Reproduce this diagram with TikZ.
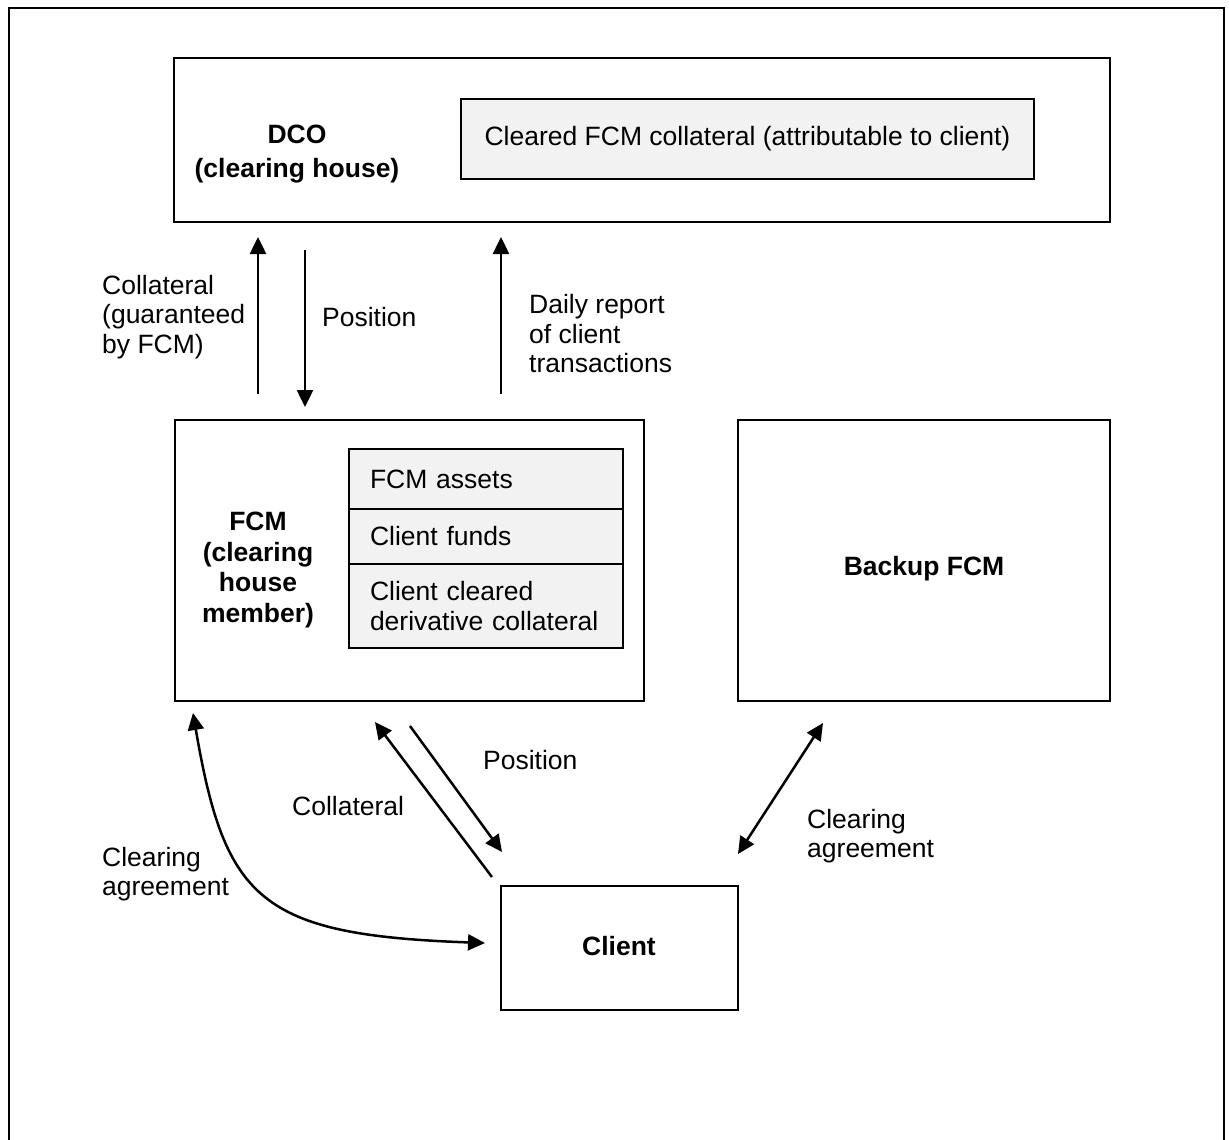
\documentclass[tikz,border=0pt]{standalone}
\usepackage{fontspec}
\setmainfont{Liberation Sans}
\usetikzlibrary{arrows.meta}
\definecolor{boxgray}{HTML}{F2F2F2}
\begin{document}
\begin{tikzpicture}[x=1pt,y=-1pt,
  box/.style={draw,line width=2.4pt,inner sep=0pt},
  graybox/.style={draw,line width=2pt,fill=boxgray,inner sep=0pt},
  rowbox/.style={graybox,text width=232pt,align=left,inner xsep=21pt,inner ysep=0pt,
    font=\fontsize{26.5}{29.5}\selectfont},
  lbl/.style={font=\fontsize{26.5}{29.5}\selectfont,inner sep=0pt,align=left},
  blbl/.style={font=\fontsize{26.5}{30.5}\selectfont\bfseries,inner sep=0pt,align=center},
  arr/.style={line width=2.5pt,-{Triangle[length=17pt,width=16pt]}},
  darr/.style={line width=2.5pt,{Triangle[length=17pt,width=16pt]}-{Triangle[length=17pt,width=16pt]}}]
\useasboundingbox (0,0) rectangle (1229,1140);
\fill[white] (0,0) rectangle (1229,1140);
% outer frame
\draw[line width=2.4pt] (9,1142) -- (9,8) -- (1224,8) -- (1224,1142);

% DCO
\node[box,minimum width=936pt,minimum height=164pt] (dco) at (642,140) {};
\node[graybox,minimum width=573pt,minimum height=80pt,font=\fontsize{26.5}{29.5}\selectfont] (dcoin) at (747.5,139) {Cleared FCM collateral (attributable to client)};
\node[blbl] (dcolbl) at (297,154) {DCO\\[3pt](clearing house)};

% FCM
\node[box,minimum width=469pt,minimum height=281pt] (fcm) at (409.5,560.5) {};
\node[blbl] (fcmlbl) at (258,570) {FCM\\(clearing\\house\\member)};
\node[rowbox,minimum height=60pt] (r1) at (486,479) {FCM assets};
\node[rowbox,minimum height=55pt] (r2) at (486,536.5) {Client funds};
\node[rowbox,minimum height=84pt] (r3) at (486,606) {Client cleared\\derivative collateral};

% Backup FCM
\node[box,minimum width=372pt,minimum height=281pt] (backup) at (924,560.5) {};
\node[blbl] (backuplbl) at (924,569) {Backup FCM};

% Client
\node[box,minimum width=237pt,minimum height=124pt] (client) at (619.5,948) {};
\node[blbl] (clientlbl) at (619,946) {Client};

% arrow end points
\coordinate (a1s) at (258,394); \coordinate (a1e) at (258,237);
\coordinate (a2s) at (305,250); \coordinate (a2e) at (305,407);
\coordinate (a3s) at (501,394); \coordinate (a3e) at (501,237);
\coordinate (a4s) at (492,877); \coordinate (a4e) at (375,722);
\coordinate (a5s) at (410,726); \coordinate (a5e) at (502,852);
\coordinate (a6s) at (823,723); \coordinate (a6e) at (738,854);
\coordinate (cvs) at (193,713); \coordinate (cve) at (485,943);

\draw[arr] (a1s) -- (a1e);
\draw[arr] (a2s) -- (a2e);
\draw[arr] (a3s) -- (a3e);
\draw[arr] (a4s) -- (a4e);
\draw[arr] (a5s) -- (a5e);
\draw[darr] (a6s) -- (a6e);
\draw[darr] (cvs) .. controls (225,900) and (260,935) .. (cve);

% labels
\node[lbl,anchor=west] (l1) at (102,317) {Collateral\\(guaranteed\\by FCM)};
\node[lbl,anchor=west] (l2) at (322,317) {Position};
\node[lbl,anchor=west] (l3) at (529,334) {Daily report\\of client\\transactions};
\node[lbl,anchor=west] (l4) at (483,760) {Position};
\node[lbl,anchor=west] (l5) at (292,806) {Collateral};
\node[lbl,anchor=west] (l6) at (102,874) {Clearing\\agreement};
\node[lbl,anchor=west] (l7) at (807,836) {Clearing\\agreement};
\end{tikzpicture}
\end{document}
